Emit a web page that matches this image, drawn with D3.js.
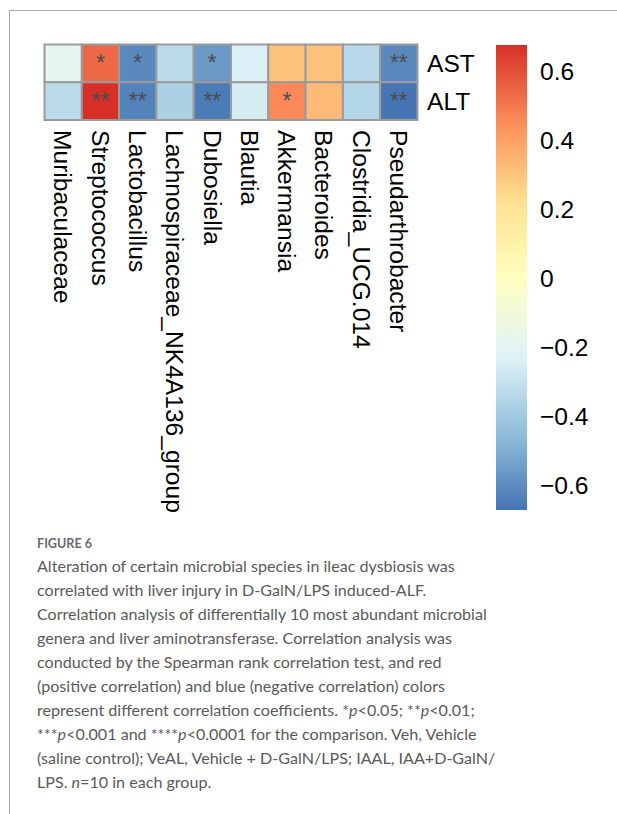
<!DOCTYPE html>
<html>
<head>
<meta charset="utf-8">
<script src="https://cdn.jsdelivr.net/npm/d3@7"></script>
<style>
  html, body { margin: 0; padding: 0; background: #fff; }
  svg { display: block; }
</style>
</head>
<body>
<svg id="fig" width="617" height="814"></svg>
<script>
// Genera (columns) and liver enzymes (rows)
const genera = ["Muribaculaceae", "Streptococcus", "Lactobacillus", "Lachnospiraceae_NK4A136_group",
  "Dubosiella", "Blautia", "Akkermansia", "Bacteroides", "Clostridia_UCG.014", "Pseudarthrobacter"];
const enzymes = ["AST", "ALT"];

// Spearman correlation coefficients
const astRho = [-0.19, 0.54, -0.61, -0.33, -0.56, -0.24, 0.31, 0.31, -0.34, -0.61];
const altRho = [-0.33, 0.676, -0.63, -0.37, -0.65, -0.25, 0.46, 0.33, -0.35, -0.672];

// Significance marks
const astSig = ["", "*", "*", "", "*", "", "", "", "", "**"];
const altSig = ["", "**", "**", "", "**", "", "*", "", "", "**"];

// Legend ticks
const legendTicks = [0.6, 0.4, 0.2, 0, -0.2, -0.4, -0.6];

// RdYlBu (7 classes), blue to red
const palette = ["#4575B4", "#91BFDB", "#E0F3F8", "#FFFFBF", "#FEE090", "#FC8D59", "#D73027"];

const captionTitle = "FIGURE 6";
const captionLines = [
  [["Alteration of certain microbial species in ileac dysbiosis was"]],
  [["correlated with liver injury in D-GalN/LPS induced-ALF."]],
  [["Correlation analysis of differentially 10 most abundant microbial"]],
  [["genera and liver aminotransferase. Correlation analysis was"]],
  [["conducted by the Spearman rank correlation test, and red"]],
  [["(positive correlation) and blue (negative correlation) colors"]],
  [["represent different correlation coefficients. *"], ["p", "i"], ["<0.05; **"], ["p", "i"], ["<0.01;"]],
  [["***"], ["p", "i"], ["<0.001 and ****"], ["p", "i"], ["<0.0001 for the comparison. Veh, Vehicle"]],
  [["(saline control); VeAL, Vehicle + D-GalN/LPS; IAAL, IAA+D-GalN/"]],
  [["LPS. "], ["n", "i"], ["=10 in each group."]]
];

const rows = enzymes.map((e, i) => ({ name: e, rho: i === 0 ? astRho : altRho, sig: i === 0 ? astSig : altSig }));
const cells = rows.flatMap(r => genera.map((g, j) => ({ row: r.name, col: g, v: r.rho[j], s: r.sig[j] })));

const svg = d3.select("#fig");
const labelFont = "'Liberation Sans', Arial, Helvetica, sans-serif";
const labelSize = 24.6;
const capH = labelSize * 0.716;

// Page frame
svg.append("line").attr("x1", 9.5).attr("y1", 10.5).attr("x2", 617).attr("y2", 10.5)
  .attr("stroke", "#a8a8a8").attr("stroke-width", 1);
svg.append("line").attr("x1", 9.5).attr("y1", 10).attr("x2", 9.5).attr("y2", 814)
  .attr("stroke", "#a8a8a8").attr("stroke-width", 1);

// Scales
const x = d3.scaleBand().domain(genera).range([44.5, 417.5]);
const y = d3.scaleBand().domain(enzymes).range([44.5, 120]);
const [vmin, vmax] = d3.extent(cells, d => d.v);
const color = d3.scaleLinear()
  .domain(palette.map((_, i) => vmin + (vmax - vmin) * i / (palette.length - 1)))
  .range(palette)
  .interpolate(d3.interpolateRgb);

// Heatmap cells
const g = svg.append("g");
g.selectAll("rect.cell").data(cells).join("rect")
  .attr("class", "cell")
  .attr("x", d => x(d.col)).attr("y", d => y(d.row))
  .attr("width", x.bandwidth()).attr("height", y.bandwidth())
  .attr("fill", d => color(d.v))
  .attr("stroke", "#9b9b9b").attr("stroke-width", 2);

// Significance asterisks
g.selectAll("text.sig").data(cells.filter(d => d.s)).join("text")
  .attr("class", "sig")
  .attr("x", d => x(d.col) + x.bandwidth() / 2)
  .attr("y", d => y(d.row) + y.bandwidth() / 2)
  .attr("text-anchor", "middle").attr("dominant-baseline", "central")
  .attr("font-family", labelFont).attr("font-size", 23)
  .attr("fill", "#4d4d4d")
  .text(d => d.s);

// Row labels
g.selectAll("text.rowlab").data(enzymes).join("text")
  .attr("class", "rowlab")
  .attr("x", 427)
  .attr("y", d => y(d) + y.bandwidth() / 2 + capH / 2)
  .attr("font-family", labelFont).attr("font-size", labelSize)
  .attr("fill", "#000")
  .text(d => d);

// Column labels, rotated to read downward
g.selectAll("text.collab").data(genera).join("text")
  .attr("class", "collab")
  .attr("transform", d => `translate(${x(d) + x.bandwidth() / 2 - capH / 2},130) rotate(90)`)
  .attr("font-family", labelFont).attr("font-size", labelSize)
  .attr("fill", "#000")
  .text(d => d);

// Colour legend
const ly = d3.scaleLinear().domain([vmin, vmax]).range([510, 45]);
const grad = svg.append("defs").append("linearGradient")
  .attr("id", "legendGrad").attr("x1", 0).attr("y1", 1).attr("x2", 0).attr("y2", 0);
d3.range(0, 1.0001, 0.02).forEach(t => {
  grad.append("stop").attr("offset", t).attr("stop-color", color(vmin + (vmax - vmin) * t));
});
svg.append("rect")
  .attr("x", 496).attr("y", ly(vmax))
  .attr("width", 31).attr("height", ly(vmin) - ly(vmax))
  .attr("fill", "url(#legendGrad)");

const fmt = d3.format(".1f");
svg.selectAll("text.tick").data(legendTicks).join("text")
  .attr("class", "tick")
  .attr("x", 540)
  .attr("y", d => ly(d) + capH / 2)
  .attr("font-family", labelFont).attr("font-size", labelSize)
  .attr("fill", "#000")
  .text(d => d === 0 ? "0" : fmt(d));

// Caption
const capFont = "Lato, 'Open Sans', sans-serif";
svg.append("text")
  .attr("x", 37).attr("y", 548)
  .attr("font-family", capFont).attr("font-size", 12.6).attr("font-weight", 700)
  .attr("fill", "#6a6a6a")
  .text(captionTitle);

const cap = svg.append("g")
  .attr("font-family", capFont).attr("font-size", 16.1)
  .attr("fill", "#5a5a5a");
captionLines.forEach((parts, i) => {
  const t = cap.append("text").attr("x", 37).attr("y", 571.5 + i * 24);
  parts.forEach(([s, style]) => {
    const sp = t.append("tspan").text(s);
    if (style === "i") sp.attr("font-style", "italic");
  });
});
</script>
</body>
</html>
